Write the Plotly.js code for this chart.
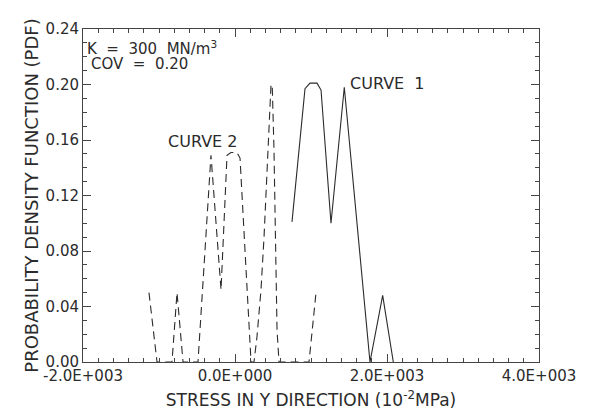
<!DOCTYPE html>
<html>
<head>
<meta charset="utf-8">
<script src="https://cdn.plot.ly/plotly-3.0.1.min.js"></script>
<style>html,body{margin:0;padding:0;background:#fff;}#chart{width:590px;height:417px;}</style>
</head>
<body>
<div id="chart"></div>
<script>
// Curve 1 (solid): stress (10^-2 MPa) vs PDF
const curve1X = [750, 921, 987, 1079, 1132, 1263, 1438, 1776, 1943, 2083];
const curve1Y = [0.101, 0.197, 0.201, 0.201, 0.196, 0.100, 0.198, 0.0, 0.048, 0.0];

// Curve 2 (dashed)
const curve2X = [-1132, -1026, -829, -763, -684, -487, -316, -184, -105, -53, 26, 66, 211, 250, 289, 342, 382, 474, 490, 513, 553, 579, 974, 1066];
const curve2Y = [0.050, 0.0, 0.0, 0.050, 0.0, 0.0, 0.149, 0.052, 0.149, 0.151, 0.151, 0.147, 0.0, 0.0, 0.018, 0.052, 0.090, 0.200, 0.199, 0.153, 0.023, 0.0, 0.0, 0.050];

const xTickVals = [-2000, 0, 2000, 4000];
const xTickText = ['-2.0E+003', '0.0E+000', '2.0E+003', '4.0E+003'];
const yTickVals = [0, 0.04, 0.08, 0.12, 0.16, 0.20, 0.24];

const ink = '#2b2b2b';
const fontFam = 'DejaVu Sans, sans-serif';
const nb = '\u00a0';

const traces = [
  {x: curve1X, y: curve1Y, mode: 'lines', name: 'CURVE 1',
   line: {color: ink, width: 1.1}},
  {x: curve2X, y: curve2Y, mode: 'lines', name: 'CURVE 2',
   line: {color: ink, width: 1.1, dash: '8px,5px'}}
];

const axisCommon = {
  showgrid: false, zeroline: false, showline: true, linecolor: '#444', linewidth: 1,
  mirror: 'ticks', ticks: 'inside', tickcolor: '#444',
  tickfont: {family: fontFam, size: 15, color: ink}
};

const layout = {
  width: 590, height: 417,
  margin: {l: 83, r: 51, t: 29, b: 55},
  paper_bgcolor: '#ffffff', plot_bgcolor: '#ffffff',
  showlegend: false,
  font: {family: fontFam, color: ink},
  xaxis: Object.assign({}, axisCommon, {
    range: [-2000, 4000], tickvals: xTickVals, ticktext: xTickText, ticklen: 8,
    minor: {dtick: 200, tick0: 0, ticks: 'inside', ticklen: 4, tickcolor: '#444'},
    title: {text: 'STRESS IN Y DIRECTION (10<sup>-2</sup>MPa)', font: {family: fontFam, size: 17, color: ink}, standoff: 10}
  }),
  yaxis: Object.assign({}, axisCommon, {
    range: [0, 0.24], tickvals: yTickVals, tickformat: '.2f', ticklen: 8,
    minor: {dtick: 0.01, ticks: 'inside', ticklen: 4, tickcolor: '#444'},
    title: {text: 'PROBABILITY DENSITY FUNCTION (PDF)', font: {family: fontFam, size: 18, color: ink}, standoff: 2}
  }),
  annotations: [
    {x: -1975, y: 0.2262, xref: 'x', yref: 'y', xanchor: 'left', yanchor: 'middle', showarrow: false,
     text: 'K' + nb + nb + '=' + nb + nb + '300' + nb + nb + 'MN/m<sup>3</sup>', font: {family: fontFam, size: 15, color: ink}},
    {x: -1920, y: 0.2145, xref: 'x', yref: 'y', xanchor: 'left', yanchor: 'middle', showarrow: false,
     text: 'COV' + nb + nb + '=' + nb + nb + '0.20', font: {family: fontFam, size: 15, color: ink}},
    {x: 1487, y: 0.201, xref: 'x', yref: 'y', xanchor: 'left', yanchor: 'middle', showarrow: false,
     text: 'CURVE' + nb + nb + '1', font: {family: fontFam, size: 16, color: ink}},
    {x: -434, y: 0.159, xref: 'x', yref: 'y', xanchor: 'center', yanchor: 'middle', showarrow: false,
     text: 'CURVE' + nb + '2', font: {family: fontFam, size: 16, color: ink}}
  ]
};

Plotly.newPlot('chart', traces, layout, {staticPlot: true, displayModeBar: false});
</script>
</body>
</html>
